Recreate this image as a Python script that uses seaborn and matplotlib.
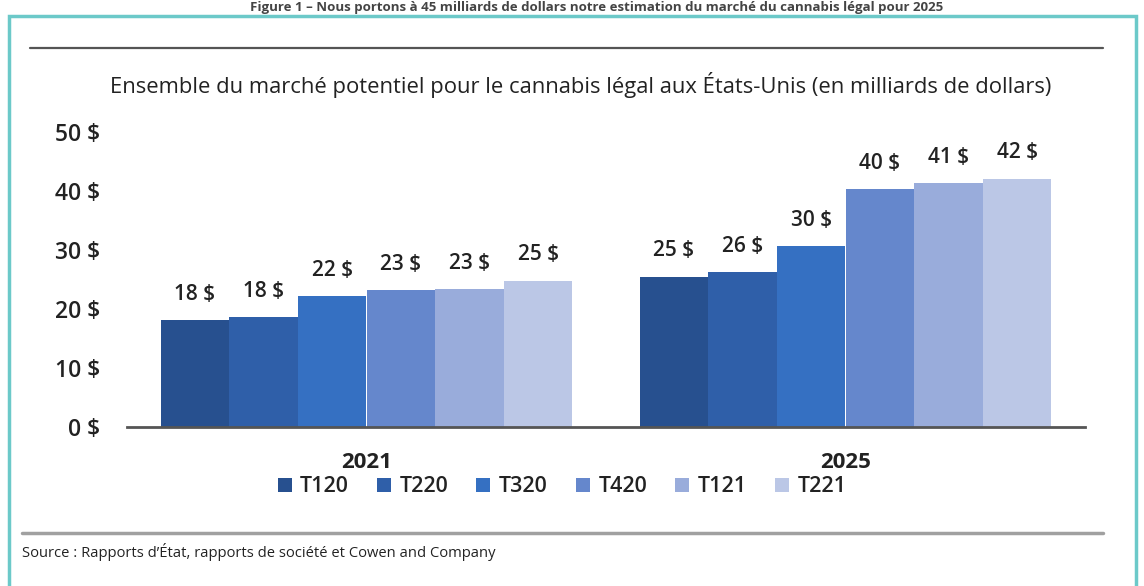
import matplotlib
matplotlib.use("Agg")
import matplotlib.pyplot as plt
from matplotlib.patches import Rectangle
from matplotlib.lines import Line2D
import seaborn as sns
import pandas as pd

years = ["2021", "2025"]
quarters = ["T120", "T220", "T320", "T420", "T121", "T221"]
values_2021 = [18.1, 18.6, 22.2, 23.2, 23.4, 24.8]
values_2025 = [25.5, 26.3, 30.6, 40.3, 41.3, 42.1]
labels_2021 = ["18 $", "18 $", "22 $", "23 $", "23 $", "25 $"]
labels_2025 = ["25 $", "26 $", "30 $", "40 $", "41 $", "42 $"]
yticks = [0, 10, 20, 30, 40, 50]
ytick_labels = ["0 $", "10 $", "20 $", "30 $", "40 $", "50 $"]
colors = ["#27508f", "#2f5fa9", "#3570c2", "#6587cc", "#99acdb", "#bbc7e6"]

title = "Ensemble du marché potentiel pour le cannabis légal aux États-Unis (en milliards de dollars)"
top_caption = "Figure 1 – Nous portons à 45 milliards de dollars notre estimation du marché du cannabis légal pour 2025"
source = "Source : Rapports d’État, rapports de société et Cowen and Company"

rows = []
for y, vals, labs in [(years[0], values_2021, labels_2021), (years[1], values_2025, labels_2025)]:
    for q, v, l in zip(quarters, vals, labs):
        rows.append({"year": y, "quarter": q, "value": v, "label": l})
df = pd.DataFrame(rows)

sns.set_theme(style="white")
plt.rcParams["font.family"] = ["Open Sans", "DejaVu Sans"]
TXT = "#222222"

W, H = 1144, 586
fig = plt.figure(figsize=(W / 100, H / 100), dpi=100)
ax = fig.add_axes([127 / W, 1 - 427 / H, (1085 - 127) / W, (427 - 132) / H])

sns.barplot(data=df, x="year", y="value", hue="quarter", order=years,
            hue_order=quarters, palette=colors, width=0.86, gap=0,
            saturation=1, linewidth=0, ax=ax, legend=True)

ax.set_ylim(0, 50)
ax.set_xlim(-0.5, 1.5)
ax.set_yticks(yticks)
ax.set_yticklabels(ytick_labels, fontsize=16.5, color=TXT, fontweight="semibold")
ax.set_xlabel("")
ax.set_ylabel("")
for s in ["top", "right", "left"]:
    ax.spines[s].set_visible(False)
ax.spines["bottom"].set_color("#555555")
ax.spines["bottom"].set_linewidth(2)
ax.tick_params(axis="y", length=0, pad=19)
ax.tick_params(axis="x", length=0, pad=18)
for t in ax.get_xticklabels():
    t.set_fontsize(16)
    t.set_fontweight("bold")
    t.set_color(TXT)

# value labels
for cont, q in zip(ax.containers, quarters):
    labs = df[df.quarter == q].set_index("year").loc[years, "label"].tolist()
    ax.bar_label(cont, labels=labs, padding=11, fontsize=15, color=TXT,
                 fontweight="semibold")

# legend
handles, lbls = ax.get_legend_handles_labels()
leg = ax.legend(handles, lbls, loc="center", bbox_to_anchor=(562 / W, 1 - 487 / H),
                bbox_transform=fig.transFigure, ncol=6, frameon=False, fontsize=15.5,
                handlelength=0.65, handleheight=0.65, handletextpad=0.4,
                columnspacing=1.3, labelcolor=TXT)
for t in leg.get_texts():
    t.set_fontweight("semibold")

# title and decorations
fig.text(581 / W, 1 - 85 / H, title, ha="center", va="center", fontsize=15.8,
         color=TXT)
fig.text(22 / W, 1 - 552 / H, source, ha="left", va="center", fontsize=10.6,
         color=TXT)
fig.text(597 / W, 1 - 1 / H, top_caption, ha="center", va="top", fontsize=9.5,
         fontweight="bold", color="#444444")

fig.add_artist(Line2D([30 / W, 1103 / W], [1 - 48 / H, 1 - 48 / H],
                      color="#555555", linewidth=1.6, transform=fig.transFigure))
fig.add_artist(Line2D([22 / W, 1103 / W], [1 - 533 / H, 1 - 533 / H],
                      color="#a0a0a0", linewidth=2.5, transform=fig.transFigure))
fig.add_artist(Rectangle((9 / W, -0.1), (1136 - 9) / W, 1 - 16 / H + 0.1,
                         fill=False, edgecolor="#6cc9c9", linewidth=2.5,
                         transform=fig.transFigure))

fig.savefig("out.png", dpi=100, facecolor="white")
